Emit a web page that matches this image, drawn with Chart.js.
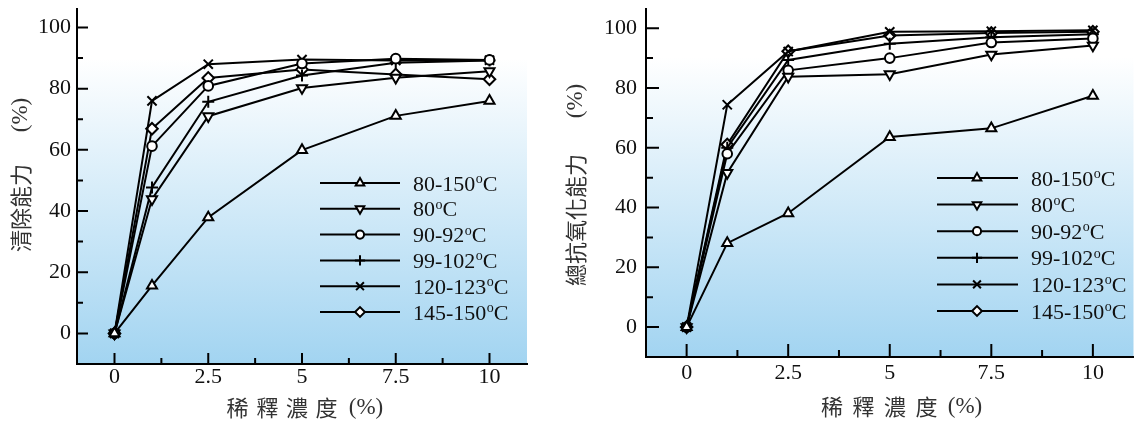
<!DOCTYPE html>
<html><head><meta charset="utf-8">
<script src="https://cdn.jsdelivr.net/npm/chart.js@4.4.0/dist/chart.umd.min.js"></script>
<style>
html,body{margin:0;padding:0;background:#fff;width:1142px;height:424px;overflow:hidden;}
canvas{position:absolute;top:0;}
#c1{left:0}
#c2{left:540px}
</style></head><body>
<canvas id="c1" width="540" height="424"></canvas>
<canvas id="c2" width="602" height="424"></canvas>
<script>
// ---- data ----
const concentrations = [0, 1, 2.5, 5, 7.5, 10];
const xTickValues = [0, 2.5, 5, 7.5, 10];
const xTickLabels = ['0', '2.5', '5', '7.5', '10'];
const yTickValues = [0, 20, 40, 60, 80, 100];
const seriesLabels = ['80-150', '80', '90-92', '99-102', '120-123', '145-150'];

// left: 清除能力 (%)
const scav_80_150  = [0, 15.6, 37.9, 59.9, 71.1, 76.0];
const scav_80      = [0, 43.9, 71.0, 80.2, 83.6, 85.7];
const scav_90_92   = [0, 61.2, 80.9, 88.2, 89.8, 89.4];
const scav_99_102  = [0, 47.7, 75.7, 84.3, 88.5, 89.2];
const scav_120_123 = [0, 76.0, 88.0, 89.5, 89.2, 89.3];
const scav_145_150 = [0, 66.9, 83.5, 86.3, 84.6, 83.1];

// right: 總抗氧化能力 (%)
const anti_80_150  = [0, 28.1, 38.1, 63.6, 66.5, 77.4];
const anti_80      = [0, 51.6, 83.8, 84.6, 91.2, 94.2];
const anti_90_92   = [0, 58.0, 85.9, 90.0, 95.2, 96.6];
const anti_99_102  = [0, 60.0, 89.4, 94.8, 97.0, 98.0];
const anti_120_123 = [0, 74.4, 92.2, 98.8, 99.0, 99.3];
const anti_145_150 = [0, 61.1, 92.3, 97.6, 98.4, 98.8];

const markerStyles = [
  {pointStyle: 'triangle', rotation: 0,   radius: 5.8},
  {pointStyle: 'triangle', rotation: 180, radius: 5.8},
  {pointStyle: 'circle',   rotation: 0,   radius: 4.8},
  {pointStyle: 'cross',    rotation: 0,   radius: 6},
  {pointStyle: 'crossRot', rotation: 0,   radius: 6.5},
  {pointStyle: 'rectRot',  rotation: 0,   radius: 5.8}
];

const NUM_FONT = "'Liberation Serif', 'Times New Roman', serif";
const CJK_FONT = "'Noto Sans CJK TC', 'Noto Sans CJK SC', sans-serif";

function buildDatasets(seriesList) {
  return seriesList.map((vals, i) => ({
    label: seriesLabels[i],
    data: concentrations.map((x, j) => ({x: x, y: vals[j]})),
    borderColor: '#000',
    borderWidth: 2,
    backgroundColor: '#fff',
    pointBackgroundColor: '#fff',
    pointBorderColor: '#000',
    pointBorderWidth: 2,
    pointStyle: markerStyles[i].pointStyle,
    pointRotation: markerStyles[i].rotation,
    pointRadius: markerStyles[i].radius,
    pointHoverRadius: markerStyles[i].radius,
    tension: 0,
    fill: false,
    clip: false
  }));
}

const decorPlugin = {
  id: 'decor',
  beforeDraw(chart, args, o) {
    const {ctx, chartArea: a} = chart;
    const g = ctx.createLinearGradient(0, a.top, 0, a.bottom);
    g.addColorStop(0, '#ffffff');
    g.addColorStop(0.14, '#ffffff');
    g.addColorStop(1, '#a2d4f1');
    ctx.save();
    ctx.fillStyle = g;
    ctx.fillRect(a.left, a.top, a.right - a.left, a.bottom - a.top);
    ctx.restore();
  },
  beforeDatasetsDraw(chart, args, o) {
    const {ctx, chartArea: a, scales} = chart;
    const xs = scales.x, ys = scales.y;
    ctx.save();
    ctx.strokeStyle = '#000';
    ctx.lineWidth = 2;
    ctx.beginPath();
    xTickValues.forEach(v => {
      const px = xs.getPixelForValue(v);
      ctx.moveTo(px, a.bottom); ctx.lineTo(px, a.bottom - o.major);
    });
    for (let i = 0; i < xTickValues.length - 1; i++) {
      const px = xs.getPixelForValue((xTickValues[i] + xTickValues[i + 1]) / 2);
      ctx.moveTo(px, a.bottom); ctx.lineTo(px, a.bottom - o.minor);
    }
    yTickValues.forEach(v => {
      const py = ys.getPixelForValue(v);
      ctx.moveTo(a.left, py); ctx.lineTo(a.left + o.major, py);
    });
    for (let i = 0; i < yTickValues.length - 1; i++) {
      const py = ys.getPixelForValue((yTickValues[i] + yTickValues[i + 1]) / 2);
      ctx.moveTo(a.left, py); ctx.lineTo(a.left + o.minor, py);
    }
    ctx.stroke();
    ctx.restore();
  },
  afterDraw(chart, args, o) {
    const {ctx} = chart;
    ctx.save();
    // legend
    const L = o.legend;
    chart.data.datasets.forEach((ds, i) => {
      const y = L.y0 + i * L.dy;
      ctx.strokeStyle = '#000';
      ctx.lineWidth = 2;
      ctx.beginPath();
      ctx.moveTo(L.x1, y); ctx.lineTo(L.x2, y);
      ctx.stroke();
      ctx.fillStyle = '#fff';
      ctx.strokeStyle = '#000';
      ctx.lineWidth = 2;
      Chart.helpers.drawPoint(ctx, {
        pointStyle: ds.pointStyle, rotation: ds.pointRotation,
        radius: ds.pointRadius * 0.85, borderWidth: 2
      }, L.mx, y);
      // text with superscript o
      ctx.fillStyle = '#111';
      ctx.textBaseline = 'alphabetic';
      ctx.textAlign = 'left';
      const base = y + 7.5;
      ctx.font = '22px ' + NUM_FONT;
      ctx.fillText(ds.label, L.tx, base);
      let w = ctx.measureText(ds.label).width;
      ctx.font = '14px ' + NUM_FONT;
      ctx.fillText('o', L.tx + w + 0.5, base - 7.5);
      const w2 = ctx.measureText('o').width;
      ctx.font = '22px ' + NUM_FONT;
      ctx.fillText('C', L.tx + w + w2 + 0.5, base);
    });
    // x title
    const X = o.xTitle;
    ctx.fillStyle = '#333';
    ctx.textAlign = 'center';
    ctx.textBaseline = 'middle';
    ctx.font = '22px ' + CJK_FONT;
    X.chars.forEach((c, i) => ctx.fillText(c, X.centers[i], X.y));
    ctx.font = '23px ' + NUM_FONT;
    ctx.fillText('(%)', X.pc, X.y);
    // y title
    const Y = o.yTitle;
    ctx.translate(Y.x, 0);
    ctx.rotate(-Math.PI / 2);
    ctx.font = '22px ' + CJK_FONT;
    ctx.fillText(Y.text, -Y.cjkCenter, 0);
    ctx.font = '23px ' + NUM_FONT;
    ctx.fillText('(%)', -Y.pc, 0);
    ctx.restore();
  }
};

function makeChart(id, series, cfg) {
  return new Chart(document.getElementById(id), {
    type: 'line',
    data: {datasets: buildDatasets(series)},
    plugins: [decorPlugin],
    options: {
      responsive: false,
      animation: false,
      events: [],
      layout: {padding: {left: 0, top: cfg.area.top, right: cfg.canvasW - cfg.area.right, bottom: 0}},
      plugins: {
        legend: {display: false},
        tooltip: {enabled: false},
        decor: {
          major: cfg.major, minor: cfg.minor,
          legend: cfg.legend, xTitle: cfg.xTitle, yTitle: cfg.yTitle
        }
      },
      scales: {
        x: {
          type: 'linear', min: -1, max: 11,
          afterBuildTicks: s => { s.ticks = xTickValues.map(v => ({value: v})); },
          afterFit: s => { s.height = 424 - cfg.area.bottom; s.paddingLeft = 0; s.paddingRight = 0; },
          grid: {display: false, drawTicks: false},
          border: {display: true, color: '#000', width: 2},
          ticks: {
            padding: cfg.xPad, color: '#111', maxRotation: 0, autoSkip: false,
            font: {family: NUM_FONT, size: 22},
            callback: (v) => { const k = xTickValues.indexOf(v); return k >= 0 ? xTickLabels[k] : ''; }
          }
        },
        y: {
          type: 'linear', min: -10, max: cfg.yMax,
          afterBuildTicks: s => { s.ticks = yTickValues.map(v => ({value: v})); },
          afterFit: s => { s.width = cfg.area.left; s.paddingTop = 0; s.paddingBottom = 0; },
          grid: {display: false, drawTicks: false},
          border: {display: true, color: '#000', width: 2},
          ticks: {
            padding: cfg.yPad, color: '#111', autoSkip: false,
            font: {family: NUM_FONT, size: 22},
            callback: (v) => String(v)
          }
        }
      }
    }
  });
}

makeChart('c1',
  [scav_80_150, scav_80, scav_90_92, scav_99_102, scav_120_123, scav_145_150],
  {
    canvasW: 540, area: {left: 77, top: 7, right: 527, bottom: 364}, yMax: 106.2,
    xPad: 0, yPad: 6, major: 11, minor: 6,
    legend: {x1: 320, x2: 400, mx: 360, tx: 413, y0: 183, dy: 25.8},
    xTitle: {chars: ['稀', '釋', '濃', '度'], centers: [237.5, 267.5, 297, 326.5], pc: 366, y: 408},
    yTitle: {x: 21, text: '清除能力', cjkCenter: 208, pc: 115}
  });

makeChart('c2',
  [anti_80_150, anti_80, anti_90_92, anti_99_102, anti_120_123, anti_145_150],
  {
    canvasW: 602, area: {left: 106, top: 7, right: 602, bottom: 357}, yMax: 106.6,
    xPad: 3, yPad: 9, major: 13, minor: 7,
    legend: {x1: 397, x2: 478, mx: 437, tx: 491, y0: 178, dy: 26.6},
    xTitle: {chars: ['稀', '釋', '濃', '度'], centers: [292, 323.5, 355, 386.5], pc: 425, y: 407},
    yTitle: {x: 36, text: '總抗氧化能力', cjkCenter: 220, pc: 101}
  });
</script>
</body></html>
